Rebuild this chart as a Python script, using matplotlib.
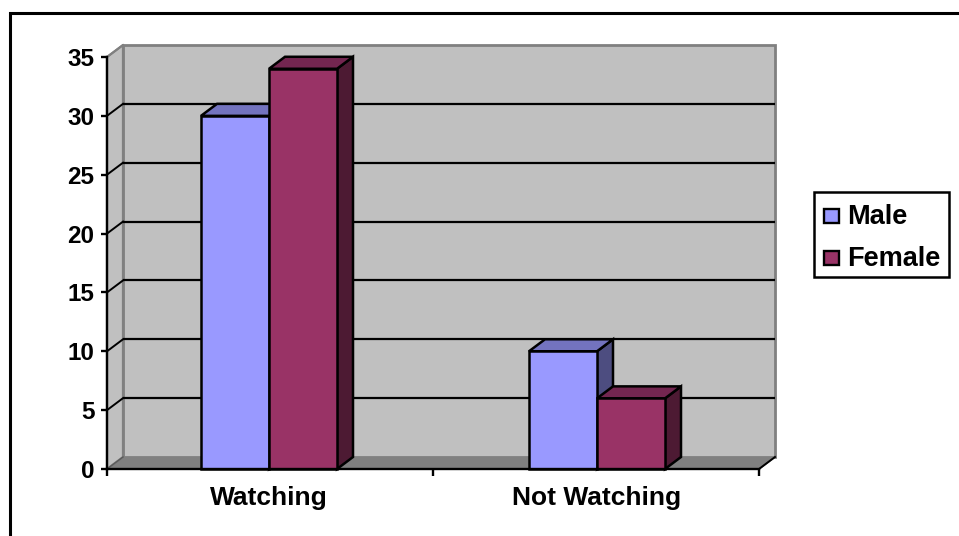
import matplotlib
matplotlib.use("Agg")
import matplotlib.pyplot as plt
from matplotlib.lines import Line2D
from matplotlib.patches import Polygon, Rectangle

categories = ["Watching", "Not Watching"]
series_names = ["Male", "Female"]
male = [30, 10]
female = [34, 6]
y_ticks = [0, 5, 10, 15, 20, 25, 30, 35]

face = ["#9999FF", "#993366"]
top = ["#7373BF", "#732650"]
side = ["#4D4D80", "#4D1A33"]
WALL = "#C0C0C0"
FLOOR = "#808080"

W, H = 959, 536
plt.rcParams["font.family"] = ["Liberation Sans", "DejaVu Sans"]
plt.rcParams["font.weight"] = "bold"

fig = plt.figure(figsize=(W / 100, H / 100), dpi=100)

# chart frame: only the top and left edges fall inside the image
fig.add_artist(Line2D([10 / W, 10 / W, 1], [0, 1 - 12.5 / H, 1 - 12.5 / H],
                      transform=fig.transFigure, color="black", lw=2.2,
                      solid_joinstyle="miter", zorder=-1))

# axes spanning the front plane of the pseudo-3D plot
left, right, ybase, ytop = 107, 759, 469, 57
ax = fig.add_axes([left / W, 1 - ybase / H, (right - left) / W, (ybase - ytop) / H])
ax.set_xlim(0, 2)
ax.set_ylim(0, 35)
ax.patch.set_visible(False)
for name, spine in ax.spines.items():
    spine.set_visible(name in ("left", "bottom"))
    spine.set_linewidth(1.7)
    spine.set_zorder(6)

# depth of the extrusion, converted from pixels to data units
px_per_x = (right - left) / 2
dx = 16 / px_per_x
dy = 12 / ((ybase - ytop) / 35)
ymax = y_ticks[-1]


def poly(points, fc, ec, lw=1.8, z=2):
    ax.add_patch(Polygon(points, closed=True, fc=fc, ec=ec, lw=lw, zorder=z,
                         clip_on=False, joinstyle="miter"))


# walls and floor
poly([(0, 0), (dx, dy), (2 + dx, dy), (2, 0)], FLOOR, "#6E6E6E", 1.2, 1)
poly([(dx, dy), (dx, ymax + dy), (2 + dx, ymax + dy), (2 + dx, dy)], WALL, FLOOR, 2, 1)
poly([(0, 0), (0, ymax), (dx, ymax + dy), (dx, dy)], WALL, FLOOR, 1.6, 1)

# gridlines on the back wall with their diagonals across the side wall
for t in y_ticks[1:-1]:
    ax.plot([dx, 2 + dx], [t + dy, t + dy], color="black", lw=1.6, zorder=1.5,
            clip_on=False, solid_capstyle="butt")
for t in y_ticks[1:]:
    ax.plot([0, dx], [t, t + dy], color="black" if t < ymax else FLOOR, lw=1.4,
            zorder=1.5, clip_on=False)
ax.plot([0, dx], [0, dy], color="#5A5A5A", lw=1, zorder=1.5, clip_on=False)
ax.plot([2, 2 + dx], [0, dy], color="black", lw=1.4, zorder=1.5, clip_on=False)

# extruded bars; the two groups sit 164 px either side of the middle tick
bar_w = 68 / px_per_x
group_x = [1 - 164 / px_per_x, 1 + 164 / px_per_x]
for centre, m, f in zip(group_x, male, female):
    for j, v in enumerate((m, f)):
        x0 = centre + (j - 1) * bar_w
        x1 = x0 + bar_w
        z = 3 + j
        poly([(x1, 0), (x1 + dx, dy), (x1 + dx, v + dy), (x1, v)], side[j], "black", z=z)
        poly([(x0, v), (x0 + dx, v + dy), (x1 + dx, v + dy), (x1, v)], top[j], "black", z=z)
        poly([(x0, 0), (x0, v), (x1, v), (x1, 0)], face[j], "black", z=z)

# ticks and labels
ax.set_yticks(y_ticks)
ax.set_xticks([0, 1, 2])
ax.set_xticklabels([])
ax.tick_params(axis="y", length=4, width=1.7, pad=5, labelsize=17.5, zorder=7)
ax.tick_params(axis="x", length=5, width=1.7)
for centre, label in zip(group_x, categories):
    ax.annotate(label, (centre, 0), xytext=(0, -36), textcoords="offset pixels",
                ha="center", va="baseline", fontsize=19, fontweight="bold",
                annotation_clip=False)

# legend box
lx0, lx1, ly0, ly1 = 814, 948.5, 192, 276.5
fig.add_artist(Rectangle((lx0 / W, 1 - ly1 / H), (lx1 - lx0) / W, (ly1 - ly0) / H,
                         transform=fig.transFigure, fc="white", ec="black", lw=1.8))
for j, name in enumerate(series_names):
    cy = 215.5 + j * 42
    fig.add_artist(Rectangle((824 / W, 1 - (cy + 7) / H), 14.5 / W, 14 / H,
                             transform=fig.transFigure, fc=face[j], ec="black", lw=1.7))
    fig.text(847.5 / W, 1 - (cy + 8.5) / H, name, ha="left", va="baseline",
             fontsize=19.5, fontweight="bold")

fig.savefig("out.png", dpi=100, facecolor="white")
